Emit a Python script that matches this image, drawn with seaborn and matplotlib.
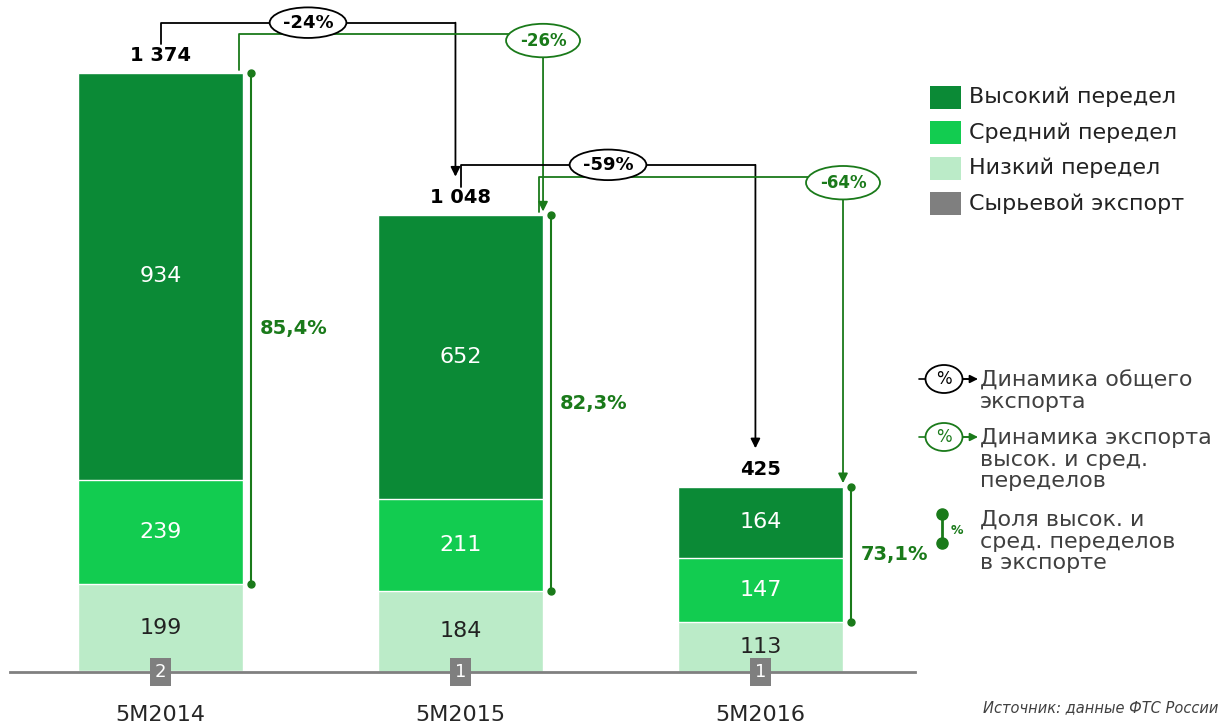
import matplotlib
matplotlib.use('Agg')
import matplotlib.pyplot as plt
import seaborn as sns
from matplotlib.patches import Rectangle, Ellipse

# data
periods = ['5M2014', '5M2015', '5M2016']
high = [934, 652, 164]
mid = [239, 211, 147]
low = [199, 184, 113]
raw = [2, 1, 1]
total_change = ['-24%', '-59%']
highmid_change = ['-26%', '-64%']
highmid_share = ['85,4%', '82,3%', '73,1%']
legend_labels = ['Высокий передел', 'Средний передел', 'Низкий передел', 'Сырьевой экспорт']

c_high = '#0b8a36'
c_mid = '#12cc50'
c_low = '#bbebc8'
c_raw = '#7f7f7f'
c_line = '#1a7a1a'

sns.set_style('white')
plt.rcParams['font.family'] = ['DejaVu Sans']

# cumulative heights for stacking
cum_raw = list(raw)
cum_low = [a + b for a, b in zip(cum_raw, low)]
cum_mid = [a + b for a, b in zip(cum_low, mid)]
totals = [a + b for a, b in zip(cum_mid, high)]

fig = plt.figure(figsize=(12.24, 7.27), dpi=100)
ax = fig.add_axes([10 / 1224, 55 / 727, 905 / 1224, 672 / 727])

# draw tallest first, each next layer on top
for vals, col in [(totals, c_high), (cum_mid, c_mid), (cum_low, c_low), (cum_raw, c_raw)]:
    sns.barplot(x=periods, y=vals, color=col, width=0.55, errorbar=None,
                edgecolor='white', linewidth=1, saturation=1, ax=ax)

ax.set_xlim(-0.502, 2.515)
ax.set_ylim(0, 1541)
ax.set_ylabel('')
ax.set_yticks([])
for s in ['top', 'left', 'right']:
    ax.spines[s].set_visible(False)
ax.spines['bottom'].set_color('#808080')
ax.spines['bottom'].set_linewidth(2)
ax.tick_params(axis='x', length=0, pad=24)
ax.set_xticks(range(3))
ax.set_xticklabels(periods, fontsize=16)

# segment labels
for i in range(3):
    ax.text(i, cum_mid[i] + high[i] / 2, str(high[i]), ha='center', va='center',
            color='white', fontsize=16)
    ax.text(i, cum_low[i] + mid[i] / 2, str(mid[i]), ha='center', va='center',
            color='white', fontsize=16)
    ax.text(i, cum_raw[i] + low[i] / 2, str(low[i]), ha='center', va='center',
            color='#222222', fontsize=16)
    ax.text(i, 0, str(raw[i]), ha='center', va='center', color='white', fontsize=13,
            clip_on=False, zorder=6,
            bbox=dict(boxstyle='square,pad=0.25', fc=c_raw, ec='none'))
    ax.text(i, totals[i] + 18, f'{totals[i]:,}'.replace(',', ' '), ha='center',
            va='bottom', fontsize=14, fontweight='bold', color='black')

    # share of high+mid bracket
    xs = i + 0.30
    ax.plot([xs, xs], [cum_low[i], totals[i]], color=c_line, lw=1.5,
            marker='o', ms=5, zorder=4)
    ax.text(i + 0.445, (cum_low[i] + totals[i]) / 2, highmid_share[i], ha='center',
            va='center', fontsize=14, fontweight='bold', color=c_line)

# change brackets between periods
for i in range(2):
    # total export (black)
    x1, x2 = i, i + 1 - 0.017
    y0, ytop, tip = totals[i] + 65, totals[i] + 115, totals[i + 1] + 88
    ax.plot([x1, x1, x2], [y0, ytop, ytop], color='black', lw=1.3, zorder=3)
    ax.annotate('', xy=(x2, tip), xytext=(x2, ytop),
                arrowprops=dict(arrowstyle='-|>', color='black', lw=1.3,
                                mutation_scale=14, shrinkA=0, shrinkB=0))
    ax.text((x1 + x2) / 2, ytop, total_change[i], ha='center', va='center',
            fontsize=13, fontweight='bold', color='black', zorder=5,
            bbox=dict(boxstyle='ellipse,pad=0.1', fc='white', ec='black', lw=1.3))

    # high + mid export (green)
    x1, x2 = i + 0.26, i + 1 + 0.275
    y0, ytop, tip = totals[i] + 7, totals[i] + 88, totals[i + 1] + 8
    ax.plot([x1, x1, x2], [y0, ytop, ytop], color=c_line, lw=1.3, zorder=3)
    ax.annotate('', xy=(x2, tip), xytext=(x2, ytop),
                arrowprops=dict(arrowstyle='-|>', color=c_line, lw=1.3,
                                mutation_scale=14, shrinkA=0, shrinkB=0))
    ax.text(x2, ytop - 14, highmid_change[i], ha='center', va='center',
            fontsize=12, fontweight='bold', color=c_line, zorder=5,
            bbox=dict(boxstyle='ellipse,pad=0.17', fc='white', ec=c_line, lw=1.3))

# legends drawn in pixel coords on an overlay
ov = fig.add_axes([0, 0, 1, 1])
ov.set_xlim(0, 1224)
ov.set_ylim(727, 0)
ov.axis('off')

for k, (lab, col) in enumerate(zip(legend_labels, [c_high, c_mid, c_low, c_raw])):
    yc = 97 + k * 35.5
    ov.add_patch(Rectangle((930, yc - 11.5), 31, 23, fc=col, ec='none'))
    ov.text(969, yc, lab, ha='left', va='center', fontsize=16, color='#222222')

for y, col, txt in [(379, 'black', 'Динамика общего\nэкспорта'),
                    (437, c_line, 'Динамика экспорта\nвысок. и сред.\nпеределов')]:
    ov.plot([919, 970], [y, y], color=col, lw=1.2)
    ov.annotate('', xy=(978, y), xytext=(963, y),
                arrowprops=dict(arrowstyle='-|>', color=col, lw=1.2,
                                mutation_scale=12, shrinkA=0, shrinkB=0))
    ov.add_patch(Ellipse((944, y), 37, 28, fc='white', ec=col, lw=1.3, zorder=3))
    ov.text(944, y, '%', ha='center', va='center', fontsize=12, color=col, zorder=4)
    ov.text(980, y - 9, txt, ha='left', va='top', fontsize=16, color='#404040',
            linespacing=1.1)
ov.plot([942, 942], [514, 543], color=c_line, lw=2, marker='o', ms=8)
ov.text(957, 530, '%', ha='center', va='center', fontsize=9, fontweight='bold',
        color=c_line)
ov.text(980, 510, 'Доля высок. и\nсред. переделов\nв экспорте', ha='left', va='top',
        fontsize=16, color='#404040', linespacing=1.1)

fig.text(1218 / 1224, 1 - 708 / 727, 'Источник: данные ФТС России', ha='right',
         va='center', style='italic', fontsize=10.5, color='#404040')

fig.savefig('out.png', dpi=100)
